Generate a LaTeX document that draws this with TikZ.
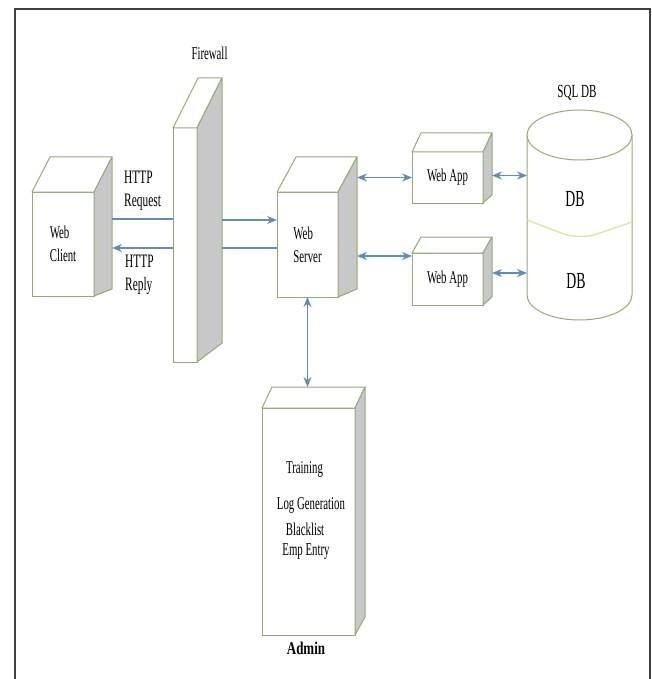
\documentclass[tikz,border=0pt]{standalone}
\usepackage{fontspec}
\setmainfont[FakeStretch=0.6]{Liberation Serif}
\newfontfamily\adminfont[FakeStretch=0.72]{Liberation Serif}
\usetikzlibrary{arrows.meta}
\definecolor{boxline}{RGB}{150,170,120}
\definecolor{sidegray}{RGB}{200,200,200}
\definecolor{arrowblue}{RGB}{95,140,185}
\definecolor{splitline}{RGB}{220,228,150}

\begin{document}
\begin{tikzpicture}[x=1pt, y=1pt,
  front/.style={draw=boxline, line width=1pt, fill=white, inner sep=0pt, outer sep=0pt,
    align=left, font=\fontsize{18}{23}\selectfont},
  face/.style={draw=boxline, line width=1pt, fill=white, line join=round},
  lbl/.style={inner sep=0pt, font=\fontsize{18}{23}\selectfont, align=left},
  link/.style={draw=arrowblue, line width=1.3pt},
  fwd/.style={link, -{Stealth[length=10pt,width=8pt]}},
  both/.style={link, {Stealth[length=10pt,width=8pt]}-{Stealth[length=10pt,width=8pt]}}]
\useasboundingbox (0,0) rectangle (652,-679);
\draw[line width=1.6pt, black!75] (15,-679) -- (15,-9) -- (650,-9) -- (650,-679);
\node[front, minimum width=62pt, minimum height=104pt] (client) at (63,-244) {Web\\Client};
\node[front, minimum width=24pt, minimum height=234pt] (wall) at (185,-245) {};
\node[front, minimum width=61pt, minimum height=105pt] (server) at (307.5,-244.5) {Web\\Server};
\node[front, minimum width=71pt, minimum height=51pt] (appA) at (447.5,-177.5) {Web App};
\node[front, minimum width=71pt, minimum height=52pt] (appB) at (447.5,-279) {Web App};
\node[front, minimum width=93pt, minimum height=227pt] (admin) at (308.5,-521.5) {};
\foreach \n/\dx/\dy/\db in {client/18/35/7, wall/25/50/19, server/19/35/8,
    appA/9/19/8, appB/9/16/8, admin/10/21/18} {
  \draw[face] (\n.north west) -- ++(\dx,\dy) -- ([shift={(\dx,\dy)}]\n.north east)
    -- (\n.north east) -- cycle;
  \draw[face, fill=sidegray] (\n.north east) -- ([shift={(\dx,\dy)}]\n.north east)
    -- ([shift={(\dx,\db)}]\n.south east) -- (\n.south east) -- cycle;
  \coordinate (\n-r) at ([xshift=\dx]\n.east);
  \coordinate (\n-t) at ([yshift=\dy]\n.north);
}
\node[inner sep=0pt, outer sep=0pt, minimum width=105pt, minimum height=160pt] (db) at (579.5,-215) {};
\draw[face] (db.north west) -- (db.south west)
  arc[start angle=180, end angle=360, x radius=52.5pt, y radius=25pt] -- (db.north east);
\draw[face] (db.north) ellipse[x radius=52.5pt, y radius=25pt];
\draw[splitline, line width=1.2pt, rounded corners=18pt]
  ([yshift=-5]db.west) -- ([yshift=-25]db.center) -- ([yshift=-7]db.east);
\node[lbl, font=\fontsize{23}{26}\selectfont] (dbA) at (575,-199.5) {DB};
\node[lbl, font=\fontsize{23}{26}\selectfont] (dbB) at (576,-281) {DB};
\node[lbl, font=\fontsize{18.5}{22}\selectfont] (sql) at (577,-93) {SQL DB};
\node[lbl, font=\fontsize{18}{22}\selectfont] (fw) at (209.5,-53) {Firewall};
\node[lbl, anchor=west, font=\fontsize{19}{23}\selectfont] (req) at (124,-191) {HTTP\\Request};
\node[lbl, anchor=west, font=\fontsize{19}{23}\selectfont] (rep) at (125,-275) {HTTP\\Reply};
\node[lbl] (train) at (304.5,-469) {Training};
\node[lbl] (loggen) at (311,-505) {Log Generation};
\node[lbl] (black) at (305,-529) {Blacklist};
\node[lbl] (emp) at (306,-552) {Emp Entry};
\node[lbl, font=\adminfont\bfseries\fontsize{18}{21}\selectfont] (adm) at (306,-648) {Admin};
\draw[link] ([yshift=26]wall.west) -- ([yshift=26]wall.west -| client-r);
\draw[fwd] ([yshift=-3]wall.west) -- ([yshift=-3]wall.west -| client-r);
\draw[fwd] ([yshift=25]wall-r) -- ([yshift=25]wall-r -| server.west);
\draw[link] ([yshift=-3]wall-r) -- ([yshift=-3]wall-r -| server.west);
\draw[both] (server-r |- appA.west) -- (appA.west);
\draw[both] ([yshift=23]appB.west -| server-r) -- ([yshift=23]appB.west);
\draw[both] ([yshift=2]appA-r) -- ([yshift=2]appA-r -| db.west);
\draw[both] ([yshift=6]appB-r) -- ([yshift=6]appB-r -| db.west);
\draw[both] (server.south) -- (server.south |- admin-t);
\end{tikzpicture}
\end{document}
